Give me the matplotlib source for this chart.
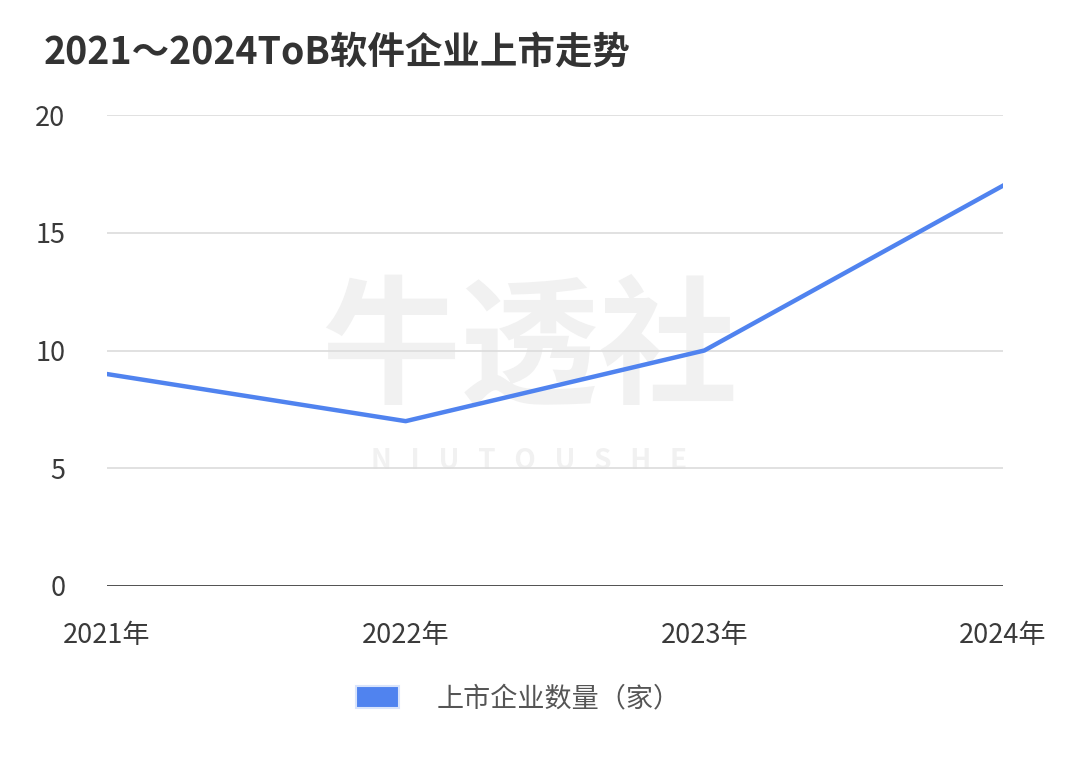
import matplotlib
matplotlib.use("Agg")
import matplotlib.pyplot as plt
from matplotlib.patches import Patch

plt.rcParams['font.family'] = ['Noto Sans CJK SC', 'DejaVu Sans']

years = ['2021年', '2022年', '2023年', '2024年']
listings = [9, 7, 10, 17]
yticks = [0, 5, 10, 15, 20]
title = '2021～2024ToB软件企业上市走势'
series_name = '上市企业数量（家）'

fig = plt.figure(figsize=(10.8, 7.59), dpi=100)
ax = fig.add_axes([107/1080, 1-586/759, 896/1080, 471/759])

x = list(range(len(years)))
ax.plot(x, listings, color='#5083ef', lw=3.2, zorder=3)
ax.set_xlim(0, len(years)-1)
ax.set_ylim(0, 20)
ax.set_yticks(yticks)
ax.set_xticks(x)
ax.set_xticklabels(years)
for s in ax.spines.values():
    s.set_visible(False)
ax.grid(axis='y', color='#dcdcdc', lw=1.2, zorder=0)
ax.axhline(0, color='#444444', lw=2, zorder=2)
ax.tick_params(axis='both', length=0, labelsize=19.5, colors='#3a3a3a')
ax.tick_params(axis='x', pad=26)
ax.tick_params(axis='y', pad=30)

# watermark (inside axes so it sits beneath the line)
ax.text(0.49, 0.535, '牛透社', fontsize=100, fontweight='black', style='italic',
        color='#f1f1f1', ha='center', va='center', zorder=1, transform=fig.transFigure)
ax.text(0.49, 0.392, 'N   I   U   T   O   U   S   H   E', fontsize=20, fontweight='bold', style='italic',
        color='#f1f1f1', ha='center', va='center', zorder=1, transform=fig.transFigure)

fig.text(44/1080, 1-52/759, title, fontsize=27, fontweight='bold', color='#333333',
         ha='left', va='center')

fig.legend(handles=[Patch(facecolor='#5083ef', edgecolor='#d9e4fb', lw=1.5)],
           labels=[series_name], loc='center', bbox_to_anchor=(0.48, 1-699/759),
           frameon=False, fontsize=19.5, handlelength=1.6, handleheight=0.9,
           handletextpad=1.4, labelcolor='#555555')

fig.savefig('out.png', dpi=100, facecolor='white')
